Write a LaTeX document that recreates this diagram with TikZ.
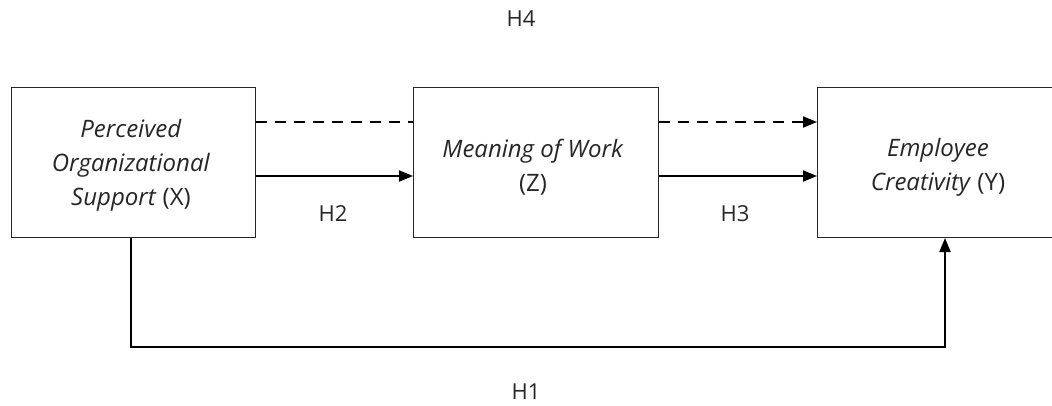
\documentclass[tikz,border=0pt]{standalone}
\usepackage{fontspec}
\setmainfont{Open Sans}
\usetikzlibrary{arrows.meta}
\begin{document}
\begin{tikzpicture}[x=1pt,y=-1pt,
  box/.style={draw=black!85,line width=1pt,fill=white},
  lbl/.style={font=\fontsize{24}{34}\selectfont,text=black!85,align=center},
  hyp/.style={font=\fontsize{22}{26}\selectfont,text=black!85},
  arr/.style={line width=2pt,-{Triangle[length=14pt,width=11pt]}},
  dsh/.style={line width=2pt,dash pattern=on 11pt off 8pt}]
\useasboundingbox[fill=white] (0,0) rectangle (1052,405);
\node[box,minimum width=244pt,minimum height=150pt,anchor=north west] (X) at (11,87) {};
\node[box,minimum width=245pt,minimum height=150pt,anchor=north west] (Z) at (413,87) {};
\node[box,minimum width=250pt,minimum height=150pt,anchor=north west] (Y) at (817,87) {};
\node[lbl] (tX) at (131,165) {\textit{Perceived}\\\textit{Organizational}\\\textit{Support} (X)};
\node[lbl] (tZ) at (533,167) {\textit{Meaning of Work}\\(Z)};
\node[lbl] (tY) at (938,167) {\textit{Employee}\\\textit{Creativity} (Y)};
\node[hyp] (H4) at (521,18.5) {H4};
\node[hyp] (H2) at (333,214) {H2};
\node[hyp] (H3) at (735,214) {H3};
\node[hyp] (H1) at (526,392) {H1};
\coordinate (d1) at (X.east |- 0,122);
\coordinate (d2) at (Z.west |- 0,122);
\coordinate (d3) at (Z.east |- 0,122);
\coordinate (d4) at (Y.west |- 0,122);
\draw[dsh] (d1) -- (d2);
\draw[dsh,arr] (d3) -- (d4);
\draw[arr] (X.east |- 0,176) -- (Z.west |- 0,176);
\draw[arr] (Z.east |- 0,176) -- (Y.west |- 0,176);
\coordinate (b1) at (131,347);
\coordinate (b2) at (945,347);
\draw[arr] (X.south -| b1) -- (b1) -- (b2) -- (Y.south -| b2);
\end{tikzpicture}
\end{document}
